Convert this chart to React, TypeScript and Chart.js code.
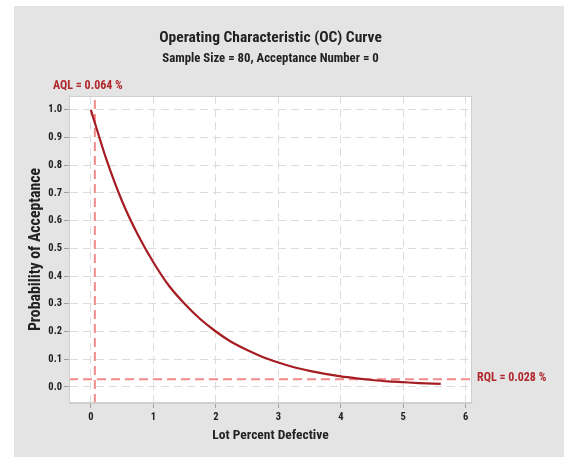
import React, { useEffect, useRef } from "react";
import { Chart, registerables } from "chart.js";

Chart.register(...registerables);

const titleText = "Operating Characteristic (OC) Curve";
const subtitleText = "Sample Size = 80, Acceptance Number = 0";
const xTitle = "Lot Percent Defective";
const yTitle = "Probability of Acceptance";

const lotPercentDefective = [0, 0.25, 0.5, 0.75, 1.0, 1.25, 1.5, 1.75, 2.0, 2.25, 2.5, 2.75, 3.0, 3.25, 3.5, 3.75, 4.0, 4.25, 4.5, 4.75, 5.0, 5.25, 5.6];
const probAcceptance = [1.0, 0.82, 0.67, 0.55, 0.45, 0.365, 0.3, 0.245, 0.2, 0.162, 0.133, 0.108, 0.088, 0.071, 0.058, 0.047, 0.038, 0.031, 0.025, 0.02, 0.017, 0.014, 0.011];

const aqlValue = 0.064;
const rqlValue = 0.028;
const aqlLabel = "AQL = 0.064 %";
const rqlLabel = "RQL = 0.028 %";

const xTicks = [0, 1, 2, 3, 4, 5, 6];
const yTicks = [0, 0.1, 0.2, 0.3, 0.4, 0.5, 0.6, 0.7, 0.8, 0.9, 1.0];
const xMin = -0.35;
const xMax = 6.1;
const yMin = -0.058;
const yMax = 1.05;

const FONT = "'Roboto Condensed', 'Liberation Sans', Arial, sans-serif";

export default function App() {
  const ref = useRef<HTMLCanvasElement | null>(null);

  useEffect(() => {
    if (!ref.current) return;
    const curve = lotPercentDefective.map((x, i) => ({ x, y: probAcceptance[i] }));

    const plugin = {
      id: "decor",
      beforeDraw(chart: any) {
        const { ctx, chartArea: a, width, height } = chart;
        ctx.save();
        ctx.fillStyle = "#e4e4e4";
        ctx.fillRect(0, 0, width, height);
        ctx.fillStyle = "#ffffff";
        ctx.fillRect(a.left, a.top, a.right - a.left, a.bottom - a.top);
        ctx.restore();
      },
      afterDraw(chart: any) {
        const { ctx, chartArea: a, scales } = chart;
        ctx.save();
        ctx.strokeStyle = "#cfcfcf";
        ctx.lineWidth = 1;
        ctx.strokeRect(a.left + 0.5, a.top + 0.5, a.right - a.left - 1, a.bottom - a.top - 1);
        ctx.fillStyle = "#b0282c";
        ctx.font = "bold 12px " + FONT;
        ctx.textBaseline = "middle";
        ctx.textAlign = "left";
        ctx.fillText(aqlLabel, a.left - 16, a.top - 10);
        ctx.fillText(rqlLabel, a.right + 5, scales.y.getPixelForValue(rqlValue) - 1);
        ctx.restore();
      },
    };

    const chart = new Chart(ref.current, {
      type: "scatter",
      data: {
        datasets: [
          {
            data: curve,
            showLine: true,
            borderColor: "#a51d22",
            borderWidth: 2.2,
            pointRadius: 0,
            cubicInterpolationMode: "monotone",
            order: 1,
          } as any,
          {
            data: [
              { x: aqlValue, y: yMin },
              { x: aqlValue, y: yMax },
            ],
            showLine: true,
            borderColor: "#f28b8b",
            borderWidth: 2,
            borderDash: [9, 5],
            pointRadius: 0,
            order: 2,
          } as any,
          {
            data: [
              { x: xMin, y: rqlValue },
              { x: xMax, y: rqlValue },
            ],
            showLine: true,
            borderColor: "#f28b8b",
            borderWidth: 2,
            borderDash: [9, 5],
            pointRadius: 0,
            order: 2,
          } as any,
        ],
      },
      options: {
        animation: false,
        responsive: false,
        layout: { padding: { left: 0, right: 92, top: 0, bottom: 0 } },
        plugins: {
          legend: { display: false },
          tooltip: { enabled: false },
          title: {
            display: true,
            text: titleText,
            fullSize: false,
            color: "#222222",
            font: { family: FONT, size: 15.5, weight: "bold" },
            padding: { top: 23, bottom: 2 },
          },
          subtitle: {
            display: true,
            text: subtitleText,
            fullSize: false,
            color: "#222222",
            font: { family: FONT, size: 12.8, weight: "bold" },
            padding: { top: 2, bottom: 29 },
          },
        },
        scales: {
          x: {
            type: "linear",
            min: xMin,
            max: xMax,
            afterBuildTicks: (s: any) => {
              s.ticks = xTicks.map((v) => ({ value: v }));
            },
            afterFit: (s: any) => {
              s.height = 54;
            },
            ticks: {
              color: "#222222",
              font: { family: FONT, size: 10.5, weight: "bold" },
              padding: 3,
              maxRotation: 0,
              callback: (v: any) => String(v),
            },
            grid: {
              color: "#dcdcdc",
              tickColor: "#a0a0a0",
              tickLength: 5,
              lineWidth: 1,
            },
            border: { display: true, color: "#cfcfcf", dash: [8, 5] },
            title: {
              display: true,
              text: xTitle,
              color: "#222222",
              font: { family: FONT, size: 13.5, weight: "bold" },
              padding: { top: 0, bottom: 13 },
            },
          },
          y: {
            type: "linear",
            min: yMin,
            max: yMax,
            afterBuildTicks: (s: any) => {
              s.ticks = yTicks.map((v) => ({ value: v }));
            },
            afterFit: (s: any) => {
              s.width = 55;
            },
            ticks: {
              color: "#222222",
              font: { family: FONT, size: 10.5, weight: "bold" },
              padding: 2,
              callback: (v: any) => Number(v).toFixed(1),
            },
            grid: {
              color: "#dcdcdc",
              tickColor: "#a0a0a0",
              tickLength: 5,
              lineWidth: 1,
            },
            border: { display: true, color: "#cfcfcf", dash: [8, 5] },
            title: {
              display: true,
              text: yTitle,
              color: "#222222",
              font: { family: FONT, size: 15.8, weight: "bold" },
              padding: { top: 13, bottom: 0 },
            },
          },
        },
      } as any,
      plugins: [plugin],
    });
    return () => chart.destroy();
  }, []);

  return (
    <div style={{ position: "absolute", left: 14, top: 6, width: 550, height: 451, background: "#e4e4e4" }}>
      <canvas ref={ref} width={550} height={451} style={{ display: "block" }} />
    </div>
  );
}
